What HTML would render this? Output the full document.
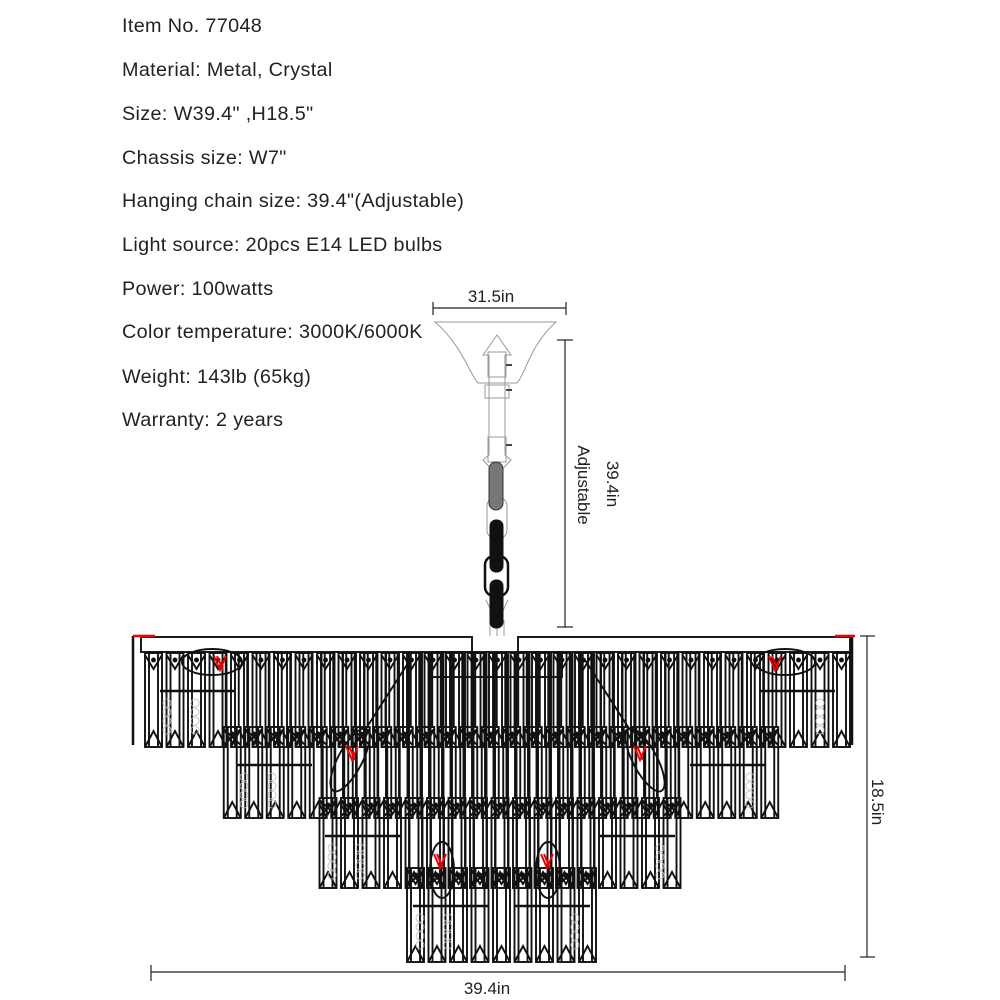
<!DOCTYPE html>
<html><head><meta charset="utf-8"><style>
html,body{margin:0;padding:0;background:#fff;}
#w{position:relative;width:1000px;height:1000px;overflow:hidden;}
.t{position:absolute;left:122px;font-family:"Liberation Sans",sans-serif;font-size:19.8px;letter-spacing:0.35px;color:#222;white-space:nowrap;line-height:22px;}
svg{position:absolute;left:0;top:0;}
</style></head><body><div id="w">
<div class="t" style="top:15px">Item No. 77048</div>
<div class="t" style="top:59px">Material: Metal, Crystal</div>
<div class="t" style="top:103px">Size: W39.4" ,H18.5"</div>
<div class="t" style="top:147px">Chassis size: W7"</div>
<div class="t" style="top:190px">Hanging chain size: 39.4"(Adjustable)</div>
<div class="t" style="top:234px">Light source: 20pcs E14 LED bulbs</div>
<div class="t" style="top:278px">Power: 100watts</div>
<div class="t" style="top:321px">Color temperature: 3000K/6000K</div>
<div class="t" style="top:366px">Weight: 143lb (65kg)</div>
<div class="t" style="top:409px">Warranty: 2 years</div>
<svg id="s" width="1000" height="1000" viewBox="0 0 1000 1000" font-family="Liberation Sans, sans-serif" fill="none" stroke="#111" stroke-width="1.9">
<g stroke="#222" stroke-width="1.2">
<line x1="433" y1="308" x2="566" y2="308"/><line x1="433" y1="302" x2="433" y2="315"/><line x1="566" y1="302" x2="566" y2="315"/>
<line x1="565" y1="340" x2="565" y2="627"/><line x1="557" y1="340" x2="573" y2="340"/><line x1="557" y1="627" x2="573" y2="627"/>
<line x1="867" y1="636" x2="867" y2="957"/><line x1="860" y1="636" x2="875" y2="636"/><line x1="860" y1="957" x2="875" y2="957"/>
<line x1="151" y1="972" x2="845" y2="972"/><line x1="151" y1="965" x2="151" y2="981"/><line x1="845" y1="965" x2="845" y2="981"/>
</g>
<g fill="#222" stroke="none" font-size="17">
<text x="491" y="302" text-anchor="middle">31.5in</text>
<text x="487" y="994" text-anchor="middle">39.4in</text>
<text transform="translate(607,484) rotate(90)" text-anchor="middle">39.4in</text>
<text transform="translate(578,485) rotate(90)" text-anchor="middle">Adjustable</text>
<text transform="translate(872,802) rotate(90)" text-anchor="middle">18.5in</text>
</g>
<g stroke="#999" stroke-width="1">
<path d="M435,322 L556,322 C530,345 525,375 517,383 L478,383 C470,375 462,345 435,322 Z"/>
<path d="M497,335 L483,355 L489,355 L489,455 L483,460 L497,475 L511,460 L505,455 L505,355 L511,355 Z"/>
<rect x="488" y="352" width="18" height="25"/><rect x="485" y="385" width="24" height="13"/><rect x="488" y="437" width="18" height="25"/>
<path d="M486,600 L497,623 L508,600 M490,620 L490,636 M497,620 L497,636 M504,620 L504,636"/>
<rect x="487" y="497" width="20" height="42" rx="9"/>
</g>
<g stroke="#444" stroke-width="2"><line x1="506" y1="365" x2="512" y2="365"/><line x1="506" y1="390" x2="512" y2="390"/><line x1="506" y1="445" x2="512" y2="445"/></g>
<rect x="489" y="462" width="14" height="48" rx="7" fill="#777" stroke="#333" stroke-width="1"/>
<rect x="490" y="520" width="13" height="52" rx="6" fill="#111" stroke="#111" stroke-width="1"/>
<rect x="485" y="556" width="23" height="40" rx="9" stroke="#111" stroke-width="2.5"/>
<rect x="490" y="580" width="13" height="48" rx="6" fill="#111" stroke="#111" stroke-width="1"/>
<g id="ch"></g>
</svg>
<script>
(function(){
var g=document.getElementById('ch'),o='';
function L(a,b,c,d){o+='<line x1="'+a+'" y1="'+b+'" x2="'+c+'" y2="'+d+'"/>';}
function crys(x,top,bot,x2){var w=17;
 o+='<rect x="'+x+'" y="'+top+'" width="'+w+'" height="'+(bot-top)+'"/>';
 L(x+4,top,x+4,bot);L(x+w-4,top,x+w-4,bot);
 o+='<path d="M'+x+','+(top+2)+' L'+(x+w/2)+','+(top+16)+' L'+(x+w)+','+(top+2)+'"/>';
 if(x2){L(x,top+2,x+w,top+18);L(x+w,top+2,x,top+18);}
 o+='<path d="M'+x+','+bot+' L'+(x+w/2)+','+(bot-16)+' L'+(x+w)+','+bot+'"/>';
 o+='<circle cx="'+(x+w/2)+'" cy="'+(top+7)+'" r="1.5" fill="#111"/>';}
o+='<rect x="141" y="637" width="331" height="15"/><rect x="518" y="637" width="332" height="15"/>';
o+='<path d="M133,636 L133,745 M852,636 L852,745" stroke-width="2.5"/>';
o+='<path d="M133,636 L155,636 M835,636 L855,636" stroke="#e00" stroke-width="2.5"/>';
var T=[[145,850,653,747,0],[222,780,727,818,1],[310,690,798,888,1],[398,605,868,962,1]];
for(var i=0;i<T.length;i++){var t=T[i];var n=Math.floor((t[1]-t[0]-17)/21.5)+1;var st=t[0]+((t[1]-t[0]-17)-(n-1)*21.5)/2;
 for(var k=0;k<n;k++){var x=st+k*21.5;crys(x,t[2],t[3],t[4]);
  if(i>0){L(x+2,653,x+2,t[2]);L(x+15,653,x+15,t[2]);}}
 o+='<line x1="'+(t[0]+15)+'" y1="'+(t[2]+38)+'" x2="'+(t[0]+90)+'" y2="'+(t[2]+38)+'" stroke-width="2.5"/>';
 o+='<line x1="'+(t[1]-90)+'" y1="'+(t[2]+38)+'" x2="'+(t[1]-15)+'" y2="'+(t[2]+38)+'" stroke-width="2.5"/>';
 for(var b=0;b<3;b++){var bx=[t[0]+22,t[0]+50,t[1]-30][b];for(var y=t[2]+50;y<t[3]-10;y+=9)o+='<circle cx="'+bx+'" cy="'+y+'" r="4" stroke="#bbb" stroke-width="0.8"/>';}
}
o+='<rect x="432" y="652" width="130" height="25"/>';
o+='<line x1="410" y1="660" x2="365" y2="730"/><line x1="585" y1="660" x2="630" y2="730"/>';
o+='<ellipse cx="350" cy="760" rx="12" ry="35" transform="rotate(28 350 760)"/>';
o+='<ellipse cx="645" cy="760" rx="12" ry="35" transform="rotate(-28 645 760)"/>';
o+='<ellipse cx="212" cy="662" rx="30" ry="13"/><ellipse cx="785" cy="662" rx="30" ry="13"/>';
o+='<ellipse cx="442" cy="870" rx="12" ry="28"/><ellipse cx="548" cy="870" rx="12" ry="28"/>';
var red=[[220,662],[775,662],[352,752],[640,752],[440,860],[547,860]];
for(var r=0;r<red.length;r++){var p=red[r];o+='<path stroke="#e00" stroke-width="2" d="M'+(p[0]-6)+','+(p[1]-6)+' L'+p[0]+','+(p[1]+8)+' L'+(p[0]+6)+','+(p[1]-6)+' M'+(p[0]-3)+','+(p[1]-6)+' L'+(p[0]+3)+','+(p[1]+8)+'"/>';}
g.innerHTML=o;
})();
</script>
</div></body></html>
